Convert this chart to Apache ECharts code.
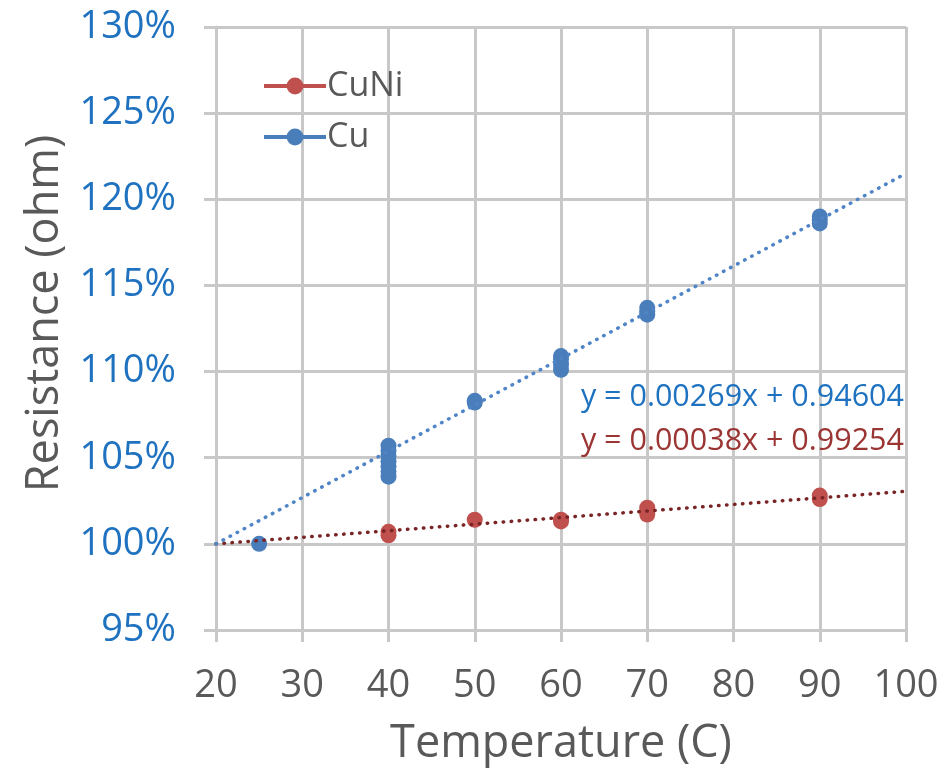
<!DOCTYPE html>
<html>
<head>
<meta charset="utf-8">
<script src="https://cdn.jsdelivr.net/npm/echarts@6/dist/echarts.min.js"></script>
<style>
  html, body { margin: 0; padding: 0; background: #fff; }
  #chart { width: 950px; height: 772px; }
</style>
</head>
<body>
<div id="chart"></div>
<script type="text/javascript">
  // measured points, [temperature C, resistance %]
  var cuNiPoints = [
    [40, 100.5], [40, 100.7],
    [50, 101.4],
    [60, 101.3], [60, 101.4],
    [70, 101.7], [70, 101.9], [70, 102.1],
    [90, 102.6], [90, 102.8]
  ];
  var cuPoints = [
    [25, 100.0],
    [40, 103.9], [40, 104.2], [40, 104.5], [40, 104.8], [40, 105.1], [40, 105.4], [40, 105.7],
    [50, 108.2], [50, 108.3],
    [60, 110.1], [60, 110.4], [60, 110.7], [60, 110.9],
    [70, 113.3], [70, 113.5], [70, 113.7],
    [90, 118.6], [90, 118.8], [90, 119.0]
  ];
  // trend line ends
  var cuNiTrend = [[20, 100.0], [100, 103.05]];
  var cuTrend = [[20, 100.0], [100, 121.5]];
  var cuNiEquation = 'y = 0.00038x + 0.99254';
  var cuEquation = 'y = 0.00269x + 0.94604';

  var font = '"Open Sans", "Noto Sans", sans-serif';
  var gridColor = '#c8c8c8';

  var chart = echarts.init(document.getElementById('chart'), null, { renderer: 'canvas' });

  var option = {
    animation: false,
    grid: { left: 216, right: 44, top: 27, bottom: 141 },
    legend: {
      orient: 'vertical',
      left: 257,
      top: 64,
      itemWidth: 62,
      itemHeight: 21,
      itemGap: 17,
      data: ['CuNi', 'Cu'],
      lineStyle: { opacity: 1, width: 4 },
      textStyle: { fontFamily: font, fontSize: 34, color: '#595959', padding: [0, 0, 0, -4] }
    },
    xAxis: {
      type: 'value',
      min: 20,
      max: 100,
      interval: 10,
      name: 'Temperature (C)',
      nameLocation: 'middle',
      nameGap: 92,
      nameTextStyle: { fontFamily: font, fontSize: 45, color: '#595959' },
      axisLine: { show: true, lineStyle: { color: gridColor, width: 3 } },
      axisTick: { show: true, length: 12, lineStyle: { color: gridColor, width: 3 } },
      axisLabel: { fontFamily: font, fontSize: 38, color: '#595959', margin: 37 },
      splitLine: { show: true, lineStyle: { color: gridColor, width: 3 } }
    },
    yAxis: {
      type: 'value',
      min: 95,
      max: 130,
      interval: 5,
      name: 'Resistance (ohm)',
      nameLocation: 'middle',
      nameGap: 148,
      nameTextStyle: { fontFamily: font, fontSize: 45, color: '#595959', padding: [0, 0, 0, 30] },
      axisLine: { show: true, lineStyle: { color: gridColor, width: 3 } },
      axisTick: { show: true, length: 12, lineStyle: { color: gridColor, width: 3 } },
      axisLabel: {
        fontFamily: font, fontSize: 38, color: '#1f72c0', margin: 40,
        formatter: '{value}%'
      },
      splitLine: { show: true, lineStyle: { color: gridColor, width: 3 } }
    },
    series: [
      {
        name: 'CuNi',
        type: 'line',
        data: cuNiPoints,
        symbol: 'circle',
        symbolSize: 16,
        showSymbol: true,
        color: '#c0504d',
        lineStyle: { opacity: 0 },
        itemStyle: { color: '#c0504d' },
        z: 2
      },
      {
        name: 'Cu',
        type: 'line',
        data: cuPoints,
        symbol: 'circle',
        symbolSize: 16,
        showSymbol: true,
        color: '#4a7ebb',
        lineStyle: { opacity: 0 },
        itemStyle: { color: '#4a7ebb' },
        z: 2
      },
      {
        name: 'CuNi trend',
        type: 'line',
        data: cuNiTrend,
        showSymbol: false,
        silent: true,
        lineStyle: { color: '#7a2525', width: 3.5, type: [0.5, 7.5], cap: 'round' },
        z: 3
      },
      {
        name: 'Cu trend',
        type: 'line',
        data: cuTrend,
        showSymbol: false,
        silent: true,
        lineStyle: { color: '#4f85c6', width: 3.5, type: [0.5, 7.5], cap: 'round' },
        z: 3
      }
    ],
    graphic: {
      elements: [
        {
          type: 'text',
          right: 46,
          top: 382,
          z: 10,
          style: { text: cuEquation, font: '30.5px ' + font, fill: '#1f72c0' }
        },
        {
          type: 'text',
          right: 46,
          top: 426,
          z: 10,
          style: { text: cuNiEquation, font: '30.5px ' + font, fill: '#9b3534' }
        }
      ]
    }
  };

  chart.setOption(option);
</script>
</body>
</html>
